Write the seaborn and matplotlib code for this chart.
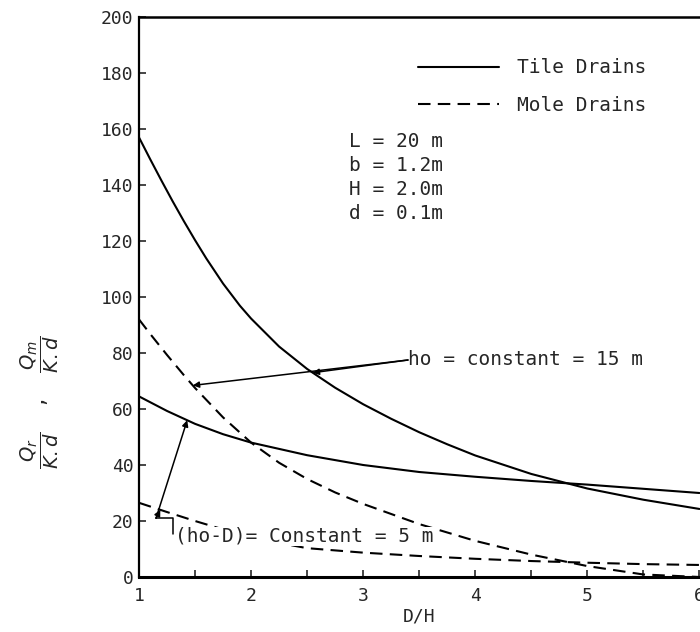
import numpy as np
import pandas as pd
import matplotlib
matplotlib.use("Agg")
import matplotlib.pyplot as plt
from matplotlib.lines import Line2D
from matplotlib.ticker import MultipleLocator
import seaborn as sns

# ---- data ----
dh_tile_ho15 = [1.0, 1.1, 1.2, 1.3, 1.4, 1.5, 1.6, 1.75, 1.9, 2.0, 2.25, 2.5,
                2.75, 3.0, 3.25, 3.5, 3.75, 4.0, 4.5, 5.0, 5.5, 6.0]
tile_ho15 = [157, 149.2, 141.6, 134.2, 127.1, 120.3, 113.8, 104.8, 96.9, 92.3,
             82.3, 74.3, 67.6, 61.7, 56.5, 51.7, 47.4, 43.4, 36.8, 31.6, 27.6, 24.3]

dh_tile_hod5 = [1.0, 1.25, 1.5, 1.75, 2.0, 2.5, 3.0, 3.5, 4.0, 4.5, 5.0, 5.5, 6.0]
tile_hod5 = [64.5, 59.3, 54.7, 51, 48, 43.5, 40, 37.5, 35.8, 34.3, 33, 31.5, 30]

dh_mole_ho15 = [1.0, 1.1, 1.25, 1.4, 1.5, 1.75, 2.0, 2.25, 2.5, 2.75, 3.0,
                3.5, 4.0, 4.5, 5.0, 5.5, 6.0]
mole_ho15 = [92, 86.8, 79.3, 72.1, 67.5, 57, 48, 40.8, 35, 30.2, 26.1,
             18.9, 12.9, 8, 3.9, 0.9, 0]

dh_mole_hod5 = [1.0, 1.25, 1.5, 1.75, 2.0, 2.5, 3.0, 3.5, 4.0, 4.5, 5.0, 5.5, 6.0]
mole_hod5 = [26.5, 23.2, 20, 17, 14.0, 10.3, 8.7, 7.5, 6.5, 5.7, 5.1, 4.6, 4.3]

x_ticks = [1, 2, 3, 4, 5, 6]
y_ticks = [0, 20, 40, 60, 80, 100, 120, 140, 160, 180, 200]
params = ["L = 20 m", "b = 1.2m", "H = 2.0m", "d = 0.1m"]

frames = []
for drain, case, xs, vals in [("Tile Drains", "ho15", dh_tile_ho15, tile_ho15),
                              ("Tile Drains", "hod5", dh_tile_hod5, tile_hod5),
                              ("Mole Drains", "ho15", dh_mole_ho15, mole_ho15),
                              ("Mole Drains", "hod5", dh_mole_hod5, mole_hod5)]:
    frames.append(pd.DataFrame({"D/H": xs, "Q": vals, "drain": drain,
                                "case": drain + case}))
df = pd.concat(frames, ignore_index=True)

sns.set_style("white")
plt.rcParams["font.family"] = ["DejaVu Sans Mono", "DejaVu Sans"]
plt.rcParams["mathtext.fontset"] = "dejavusans"

FS = 13
FT = 14
fig = plt.figure(figsize=(7, 6.32), dpi=100)
ax = fig.add_axes([139 / 700, 1 - 577 / 632, 561 / 700, 560 / 632])

DASH = (6, 3.5)
sns.lineplot(data=df, x="D/H", y="Q", style="drain", units="case",
             estimator=None, color="black", linewidth=1.5,
             dashes={"Tile Drains": "", "Mole Drains": DASH},
             legend=False, ax=ax, sort=False)

ax.set_xlim(1, 6.005)
ax.set_ylim(0, 200)
ax.xaxis.set_minor_locator(MultipleLocator(0.5))
ax.set_xticks(x_ticks)
ax.set_xticklabels([str(t) for t in x_ticks], fontsize=FS)
ax.set_yticks(y_ticks)
ax.set_yticklabels([str(t) for t in y_ticks], fontsize=FS)
ax.tick_params(axis="x", which="both", direction="in", length=5, width=1.2,
               pad=7, bottom=True)
ax.tick_params(axis="y", which="both", direction="in", length=5, width=1.2,
               pad=4, left=True)
ax.set_xlabel("D/H", fontsize=FS, labelpad=2)
ax.set_ylabel("")

for side, lw in [("left", 1.6), ("bottom", 2.2), ("top", 1.8)]:
    ax.spines[side].set_linewidth(lw)
    ax.spines[side].set_color("black")
ax.spines["right"].set_visible(False)

# y label made of two fractions
fig.text(40 / 700, 1 - 402 / 632,
         r"$\dfrac{Q_r}{K.d}$  ,  $\dfrac{Q_m}{K.d}$",
         rotation=90, ha="center", va="center", fontsize=14)

# legend
handles = [Line2D([], [], color="black", lw=1.5),
           Line2D([], [], color="black", lw=1.5, dashes=DASH)]
ax.legend(handles, ["Tile Drains", "Mole Drains"], loc="upper left",
          bbox_to_anchor=(0.497, 0.926), frameon=False, fontsize=FT,
          handlelength=4.2, handletextpad=0.9, labelspacing=0.95,
          borderpad=0, borderaxespad=0)

# parameter block
for i, s in enumerate(params):
    ax.text(2.87, 155.4 - i * 8.5, s, fontsize=FT, ha="left", va="center")

# ho = constant = 15 m annotation
txt_xy = (3.40, 77.5)
ax.text(txt_xy[0], txt_xy[1], "ho = constant = 15 m", fontsize=FT,
        ha="left", va="center")
arrow = dict(arrowstyle="-|>", color="black", lw=1.1, mutation_scale=9,
             shrinkA=0, shrinkB=0)
for xs, xa, ys in [(1.48, dh_mole_ho15, mole_ho15),
                   (2.55, dh_tile_ho15, tile_ho15)]:
    ax.annotate("", xy=(xs, np.interp(xs, xa, ys)), xytext=txt_xy,
                arrowprops=arrow)

# (ho-D) = Constant = 5 m annotation
start = (1.152, 21.0)
for xs, xa, ys in [(1.19, dh_mole_hod5, mole_hod5),
                   (1.43, dh_tile_hod5, tile_hod5)]:
    ax.annotate("", xy=(xs, np.interp(xs, xa, ys)), xytext=start,
                arrowprops=arrow)
ax.annotate("", xy=(1.30, 15.2), xytext=start,
            arrowprops=dict(arrowstyle="-", color="black", lw=1.1,
                            shrinkA=0, shrinkB=0,
                            connectionstyle="angle,angleA=0,angleB=90,rad=0"))
ax.text(1.32, 14.5, "(ho-D)= Constant = 5 m", fontsize=FT, ha="left",
        va="center", zorder=5,
        bbox=dict(fc="white", ec="none", pad=0.3))

fig.savefig("out.png", dpi=100)
